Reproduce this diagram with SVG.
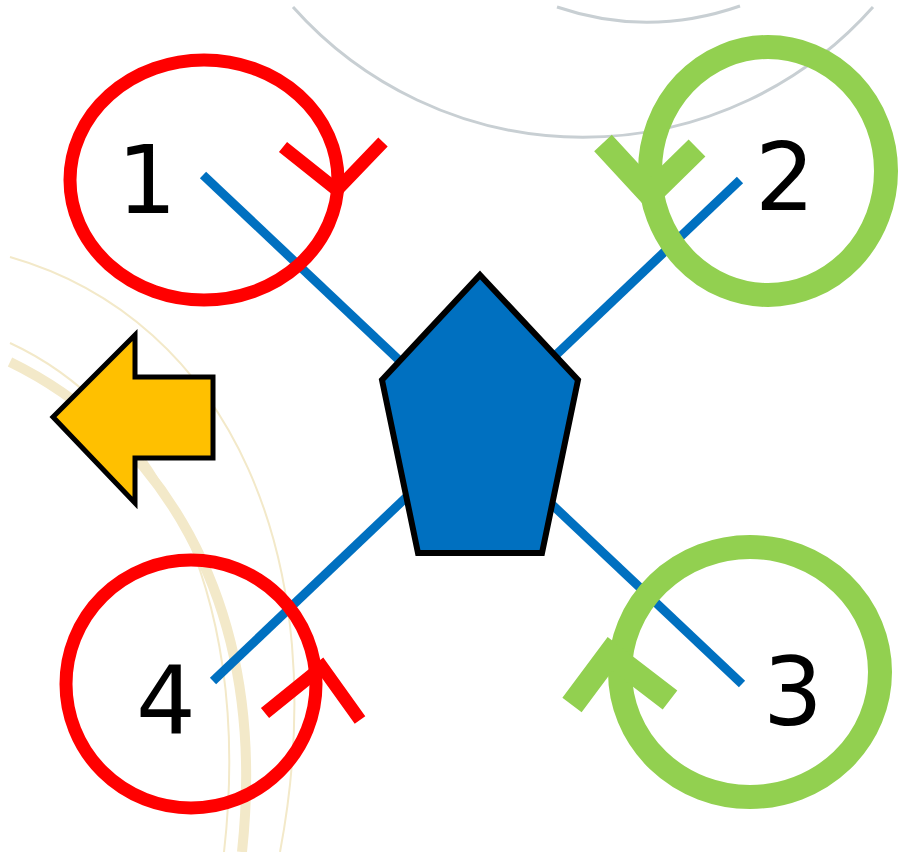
<svg xmlns="http://www.w3.org/2000/svg" width="907" height="852" viewBox="0 0 907 852">
<style>
.bg-gray{fill:none;stroke:#c8cfd3;stroke-width:3}
.bg-beige{fill:none;stroke:#f3e9c9}
.arm{stroke:#0070c0;stroke-width:9;stroke-linecap:butt}
.red{fill:none;stroke:#ff0000;stroke-width:13;stroke-linecap:butt}
.green{fill:none;stroke:#92d050;stroke-width:24;stroke-linecap:butt}
.lbl{font-family:"DejaVu Sans","Liberation Sans",sans-serif;font-size:94px;fill:#000;text-anchor:middle}
</style>
<rect width="907" height="852" fill="#ffffff"/>
<g id="background">
  <path class="bg-gray" d="M293,7 A388,388 0 0 0 873,7"/>
  <path class="bg-gray" d="M557,7 Q648,38 740,6"/>
  <path class="bg-beige" stroke-width="10" d="M10,362 C150,430 270,590 242,852"/>
  <path class="bg-beige" stroke-width="2" d="M10,343 C145,405 255,580 224,852"/>
  <path class="bg-beige" stroke-width="2" d="M10,257 C230,320 335,560 280,852"/>
</g>
<g id="connectors">
  <line class="arm" x1="203" y1="175" x2="742" y2="684"/>
  <line class="arm" x1="740" y1="180" x2="213" y2="681"/>
</g>
<g id="body">
  <polygon points="480,275 578,380 542,553 418,553 382,380" fill="#0070c0" stroke="#000" stroke-width="6" stroke-linejoin="miter"/>
</g>
<g id="rotor1">
  <ellipse class="red" cx="204" cy="180" rx="134" ry="120"/>
  <polyline class="red" points="283,147 337,190 383,142"/>
  <text class="lbl" x="147" y="213">1</text>
</g>
<g id="rotor2">
  <ellipse class="green" cx="768" cy="171" rx="118" ry="124"/>
  <polyline class="green" points="603,143 650,194 697,148"/>
  <text class="lbl" x="785" y="210">2</text>
</g>
<g id="rotor3">
  <ellipse class="green" cx="750" cy="672" rx="130" ry="125"/>
  <polyline class="green" points="572,705 610,654 670,700"/>
  <text class="lbl" x="793" y="725">3</text>
</g>
<g id="rotor4">
  <ellipse class="red" cx="191" cy="684" rx="125" ry="124"/>
  <polyline class="red" points="265,713 322,667 360,720"/>
  <text class="lbl" x="166" y="733">4</text>
</g>
<g id="direction-arrow">
  <polygon points="53,417 135,335 135,377 213,377 213,458 135,458 135,503" fill="#ffc000" stroke="#000" stroke-width="5" stroke-linejoin="miter"/>
</g>
</svg>
